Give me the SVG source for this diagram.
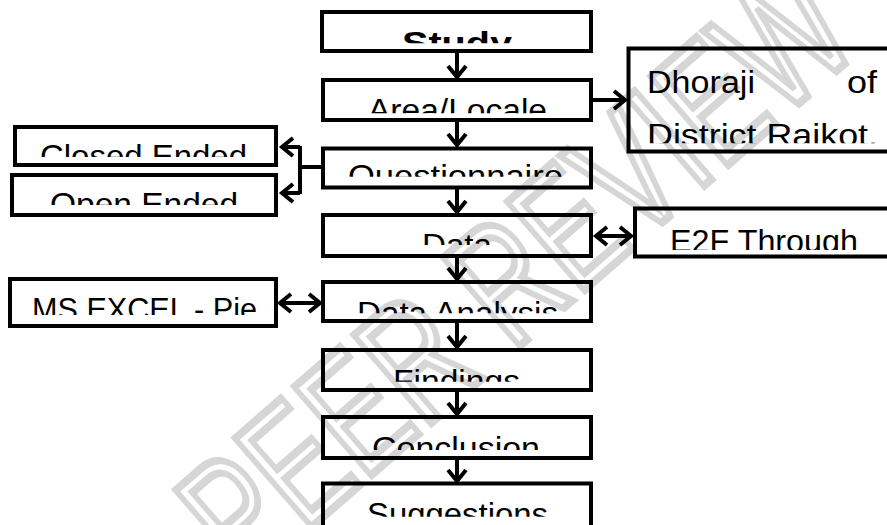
<svg xmlns="http://www.w3.org/2000/svg" width="887" height="525" viewBox="0 0 887 525">
<style>
.box{fill:none;stroke:#000;stroke-width:4}
.lbl{font-family:"Liberation Sans",Arial,sans-serif;font-size:31px;fill:#000}
.con{fill:none;stroke:#000;stroke-width:4}
.wm{font-family:"Liberation Sans",Arial,sans-serif;font-size:170px;fill:none;stroke:#d6d6d6;stroke-width:8}
</style>
<defs>
<marker id="arr" markerUnits="userSpaceOnUse" markerWidth="26" markerHeight="26" refX="13" refY="12" orient="auto-start-reverse" viewBox="0 0 26 26">
<path d="M2,3 L13,12 L2,21" fill="none" stroke="#000" stroke-width="4"/>
</marker>
<clipPath id="cStudy" clipPathUnits="userSpaceOnUse"><rect x="324" y="14" width="265" height="29.3"/></clipPath>
<clipPath id="cArea" clipPathUnits="userSpaceOnUse"><rect x="324" y="82" width="265" height="31.3"/></clipPath>
<clipPath id="cQ" clipPathUnits="userSpaceOnUse"><rect x="324" y="150" width="265" height="26.7"/></clipPath>
<clipPath id="cData" clipPathUnits="userSpaceOnUse"><rect x="324" y="217" width="265" height="28"/></clipPath>
<clipPath id="cDA" clipPathUnits="userSpaceOnUse"><rect x="324" y="284" width="265" height="29.3"/></clipPath>
<clipPath id="cF" clipPathUnits="userSpaceOnUse"><rect x="324" y="352" width="265" height="29.7"/></clipPath>
<clipPath id="cC" clipPathUnits="userSpaceOnUse"><rect x="324" y="419" width="265" height="31"/></clipPath>
<clipPath id="cS" clipPathUnits="userSpaceOnUse"><rect x="324" y="486" width="265" height="30.7"/></clipPath>
<clipPath id="cCl" clipPathUnits="userSpaceOnUse"><rect x="17" y="129" width="257" height="28"/></clipPath>
<clipPath id="cOp" clipPathUnits="userSpaceOnUse"><rect x="14" y="177" width="260" height="28"/></clipPath>
<clipPath id="cMS" clipPathUnits="userSpaceOnUse"><rect x="12" y="281" width="262" height="34"/></clipPath>
<clipPath id="cDh" clipPathUnits="userSpaceOnUse"><rect x="631" y="51" width="260" height="92.3"/></clipPath>
<clipPath id="cE2F" clipPathUnits="userSpaceOnUse"><rect x="637" y="211" width="254" height="39"/></clipPath>
</defs>

<g id="watermark">
<text class="wm" transform="translate(245,585) rotate(-41)" textLength="820" lengthAdjust="spacingAndGlyphs">PEER REVIEW</text>
</g>

<g id="connectors">
<line class="con" x1="457" y1="53" x2="457" y2="77" marker-end="url(#arr)"/>
<line class="con" x1="457" y1="122" x2="457" y2="145" marker-end="url(#arr)"/>
<line class="con" x1="457" y1="189" x2="457" y2="212" marker-end="url(#arr)"/>
<line class="con" x1="457" y1="258" x2="457" y2="279" marker-end="url(#arr)"/>
<line class="con" x1="457" y1="323" x2="457" y2="347" marker-end="url(#arr)"/>
<line class="con" x1="457" y1="392" x2="457" y2="414" marker-end="url(#arr)"/>
<line class="con" x1="457" y1="460" x2="457" y2="481" marker-end="url(#arr)"/>
<line class="con" x1="593" y1="100" x2="625" y2="100" marker-end="url(#arr)"/>
<line class="con" x1="596" y1="236" x2="631" y2="236" marker-start="url(#arr)" marker-end="url(#arr)"/>
<line class="con" x1="280" y1="303" x2="320" y2="303" marker-start="url(#arr)" marker-end="url(#arr)"/>
<path class="con" d="M321,167 H300 M300,146 V194"/>
<line class="con" x1="300" y1="147" x2="282" y2="147" marker-end="url(#arr)"/>
<line class="con" x1="300" y1="193" x2="282" y2="193" marker-end="url(#arr)"/>
</g>

<g id="study">
<rect class="box" x="322" y="12" width="269" height="39"/>
<text class="lbl" clip-path="url(#cStudy)" x="402" y="54.2" font-weight="bold" textLength="110" lengthAdjust="spacingAndGlyphs">Study</text>
</g>
<g id="area">
<rect class="box" x="323" y="80" width="268" height="40"/>
<text class="lbl" clip-path="url(#cArea)" x="368" y="120.5" textLength="179" lengthAdjust="spacingAndGlyphs">Area/Locale</text>
</g>
<g id="dhoraji">
<rect class="box" x="628.5" y="48.5" width="280" height="103"/>
<g clip-path="url(#cDh)">
<text class="lbl" x="647" y="93.3" textLength="108" lengthAdjust="spacingAndGlyphs">Dhoraji</text>
<text class="lbl" x="847" y="93.3" textLength="30" lengthAdjust="spacingAndGlyphs">of</text>
<text class="lbl" x="647" y="146" textLength="231" lengthAdjust="spacingAndGlyphs">District Raikot.</text>
</g>
</g>
<g id="questionnaire">
<rect class="box" x="323" y="148.5" width="268" height="39"/>
<text class="lbl" clip-path="url(#cQ)" x="348" y="187.2" textLength="215" lengthAdjust="spacingAndGlyphs">Questionnaire</text>
</g>
<g id="closed">
<rect class="box" x="15" y="127" width="261" height="38"/>
<text class="lbl" clip-path="url(#cCl)" x="40" y="167.2" textLength="207" lengthAdjust="spacingAndGlyphs">Closed Ended</text>
</g>
<g id="open">
<rect class="box" x="12" y="175" width="264" height="40"/>
<text class="lbl" clip-path="url(#cOp)" x="50" y="215.2" textLength="188" lengthAdjust="spacingAndGlyphs">Open Ended</text>
</g>
<g id="data">
<rect class="box" x="323" y="215" width="268" height="41"/>
<text class="lbl" clip-path="url(#cData)" x="422" y="255.5" textLength="70" lengthAdjust="spacingAndGlyphs">Data</text>
</g>
<g id="e2f">
<rect class="box" x="635" y="208.5" width="280" height="48"/>
<text class="lbl" clip-path="url(#cE2F)" x="670" y="252.2" textLength="188" lengthAdjust="spacingAndGlyphs">E2F Through</text>
</g>
<g id="analysis">
<rect class="box" x="323" y="282" width="268" height="39"/>
<text class="lbl" clip-path="url(#cDA)" x="357" y="323.9" textLength="201" lengthAdjust="spacingAndGlyphs">Data Analysis</text>
</g>
<g id="msexcel">
<rect class="box" x="10" y="279" width="266" height="47"/>
<text class="lbl" clip-path="url(#cMS)" x="32" y="320.2" textLength="225" lengthAdjust="spacingAndGlyphs">MS EXCEL - Pie</text>
</g>
<g id="findings">
<rect class="box" x="323" y="350" width="268" height="40"/>
<text class="lbl" clip-path="url(#cF)" x="393" y="392.2" textLength="127" lengthAdjust="spacingAndGlyphs">Findings</text>
</g>
<g id="conclusion">
<rect class="box" x="323" y="417" width="268" height="41"/>
<text class="lbl" clip-path="url(#cC)" x="372" y="458.9" textLength="168" lengthAdjust="spacingAndGlyphs">Conclusion</text>
</g>
<g id="suggestions">
<rect class="box" x="323" y="483.5" width="268" height="50"/>
<text class="lbl" clip-path="url(#cS)" x="367" y="525.2" textLength="181" lengthAdjust="spacingAndGlyphs">Suggestions</text>
</g>
</svg>
